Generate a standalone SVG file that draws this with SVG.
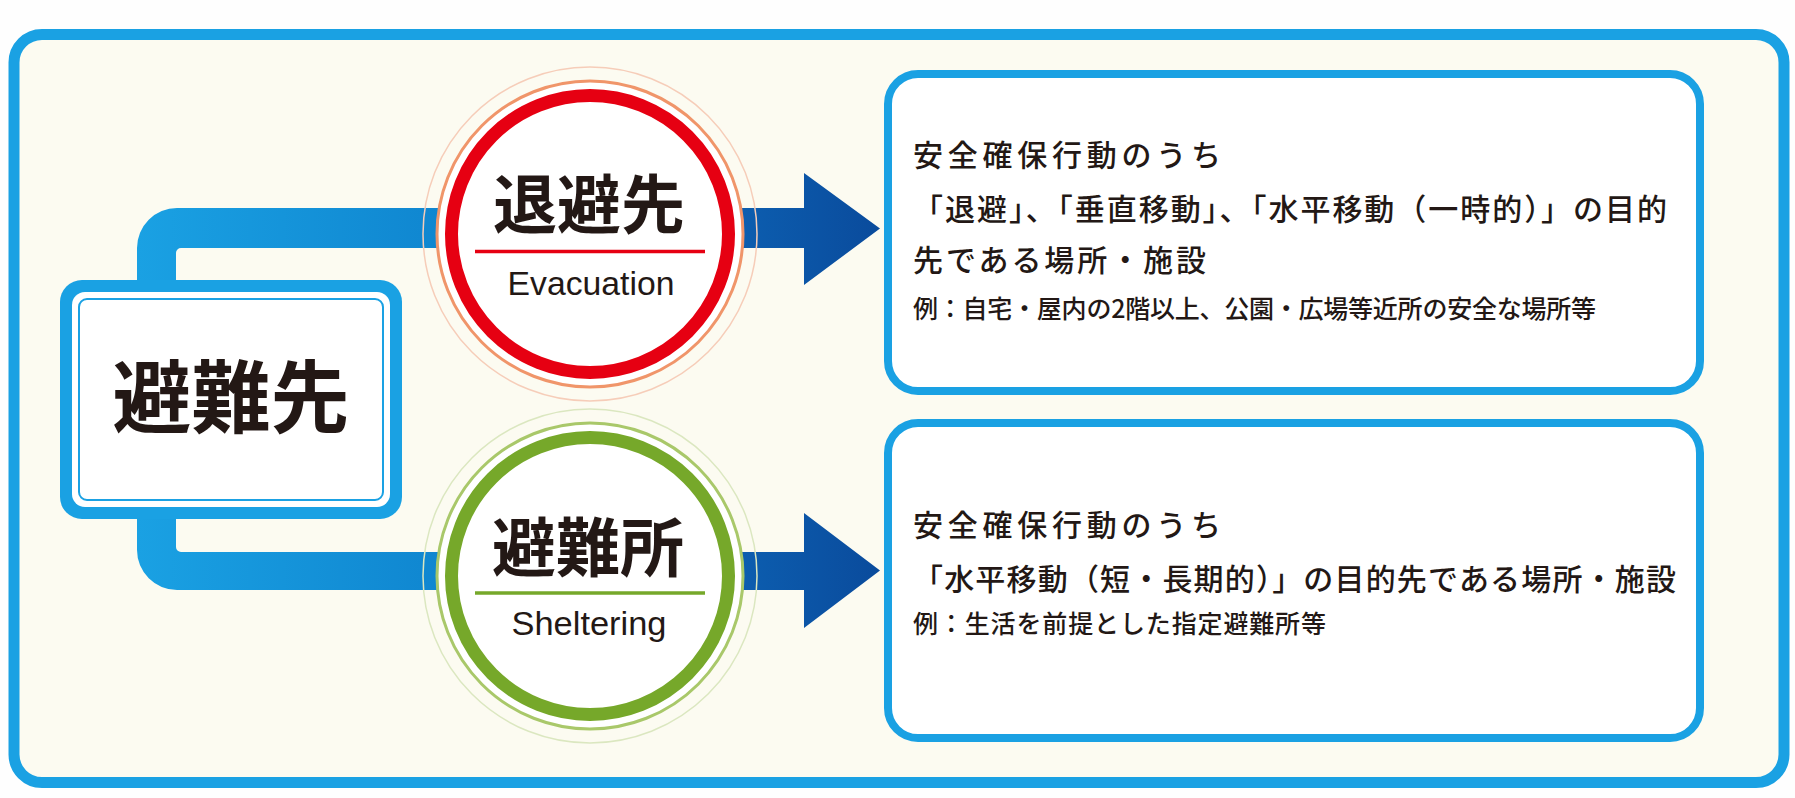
<svg xmlns="http://www.w3.org/2000/svg" width="1795" height="798" viewBox="0 0 1795 798">
<defs>
<linearGradient id="pipeGrad" x1="137" y1="0" x2="600" y2="0" gradientUnits="userSpaceOnUse">
<stop offset="0" stop-color="#1aa1e3"/>
<stop offset="1" stop-color="#0a78c6"/>
</linearGradient>
<linearGradient id="arrowGrad" x1="700" y1="0" x2="880" y2="0" gradientUnits="userSpaceOnUse">
<stop offset="0" stop-color="#0d63b5"/>
<stop offset="1" stop-color="#0a4b9c"/>
</linearGradient>
<style>
.jp{font-family:"Noto Sans CJK JP","Noto Sans",sans-serif;fill:#231815}
.en{font-family:"Liberation Sans",Arial,sans-serif;fill:#231815}
.box{fill:#ffffff;stroke:#1aa1e3;stroke-width:8}
.body{font-size:30px;font-weight:500}
.small{font-size:25px;font-weight:500}
.title{font-size:64px;font-weight:700}
</style>
</defs>
<rect x="0" y="0" width="1795" height="798" fill="#fefefe"/>
<rect id="frame" x="14" y="34.5" width="1770" height="748" rx="28" fill="#fcfbf1" stroke="#1aa1e3" stroke-width="11"/>

<g id="connectors">
<path d="M137,290 V248 A40,40 0 0 1 177,208 H600 V248 H181 A5,5 0 0 0 176,253 V290 Z" fill="url(#pipeGrad)"/>
<path d="M137,510 V550 A40,40 0 0 0 177,590 H600 V552 H181 A5,5 0 0 1 176,547 V510 Z" fill="url(#pipeGrad)"/>
<path d="M600,208 H804 V173 L880,228.5 L804,285 V248 H600 Z" fill="url(#arrowGrad)"/>
<path d="M600,552 H804 V513 L880,570.5 L804,628 V590 H600 Z" fill="url(#arrowGrad)"/>
</g>

<g id="node-hinansaki">
<rect x="60" y="280" width="342" height="239" rx="22" fill="#1aa1e3"/>
<rect x="72" y="292" width="318" height="215" rx="13" fill="#ffffff"/>
<rect x="79" y="299" width="304" height="201" rx="8" fill="#ffffff" stroke="#1aa1e3" stroke-width="2"/>
<text class="jp" x="231" y="427" text-anchor="middle" font-size="79" font-weight="700">避難先</text>
</g>

<g id="node-taihisaki">
<circle cx="590" cy="234" r="167" fill="none" stroke="#f6cdb9" stroke-width="1.5"/>
<circle cx="590" cy="234" r="153" fill="#ffffff" stroke="#f0956a" stroke-width="3"/>
<circle cx="590" cy="234" r="138.5" fill="#ffffff" stroke="#e60012" stroke-width="13"/>
<text class="jp title" x="589" y="228" text-anchor="middle">退避先</text>
<line x1="475" y1="251.5" x2="705" y2="251.5" stroke="#e60012" stroke-width="3.5"/>
<text class="en" x="591" y="295" text-anchor="middle" font-size="33" textLength="167" lengthAdjust="spacingAndGlyphs">Evacuation</text>
</g>

<g id="node-hinanjo">
<circle cx="590" cy="576" r="167" fill="none" stroke="#dbe7c0" stroke-width="1.5"/>
<circle cx="590" cy="576" r="153" fill="#ffffff" stroke="#a9c86a" stroke-width="3"/>
<circle cx="590" cy="576" r="138.5" fill="#ffffff" stroke="#76a82a" stroke-width="13"/>
<text class="jp title" x="588" y="571" text-anchor="middle">避難所</text>
<line x1="475" y1="593" x2="705" y2="593" stroke="#76a82a" stroke-width="3.5"/>
<text class="en" x="589" y="635" text-anchor="middle" font-size="33" textLength="155" lengthAdjust="spacingAndGlyphs">Sheltering</text>
</g>

<g id="node-desc-taihi">
<rect class="box" x="888" y="74" width="812" height="317" rx="30"/>
<text class="jp body" x="913" y="166" textLength="308" lengthAdjust="spacing">安全確保行動のうち</text>
<text class="jp body" x="913" y="220" textLength="754" lengthAdjust="spacing">「退避」、「垂直移動」、「水平移動（一時的）」の目的</text>
<text class="jp body" x="913" y="271" textLength="293" lengthAdjust="spacing">先である場所・施設</text>
<text class="jp small" x="913" y="318" textLength="683" lengthAdjust="spacing">例：自宅・屋内の2階以上、公園・広場等近所の安全な場所等</text>
</g>

<g id="node-desc-hinan">
<rect class="box" x="888" y="423" width="812" height="315" rx="30"/>
<text class="jp body" x="913" y="536" textLength="308" lengthAdjust="spacing">安全確保行動のうち</text>
<text class="jp body" x="913" y="590" textLength="763" lengthAdjust="spacing">「水平移動（短・長期的）」の目的先である場所・施設</text>
<text class="jp small" x="913" y="633" textLength="413" lengthAdjust="spacing">例：生活を前提とした指定避難所等</text>
</g>
</svg>
